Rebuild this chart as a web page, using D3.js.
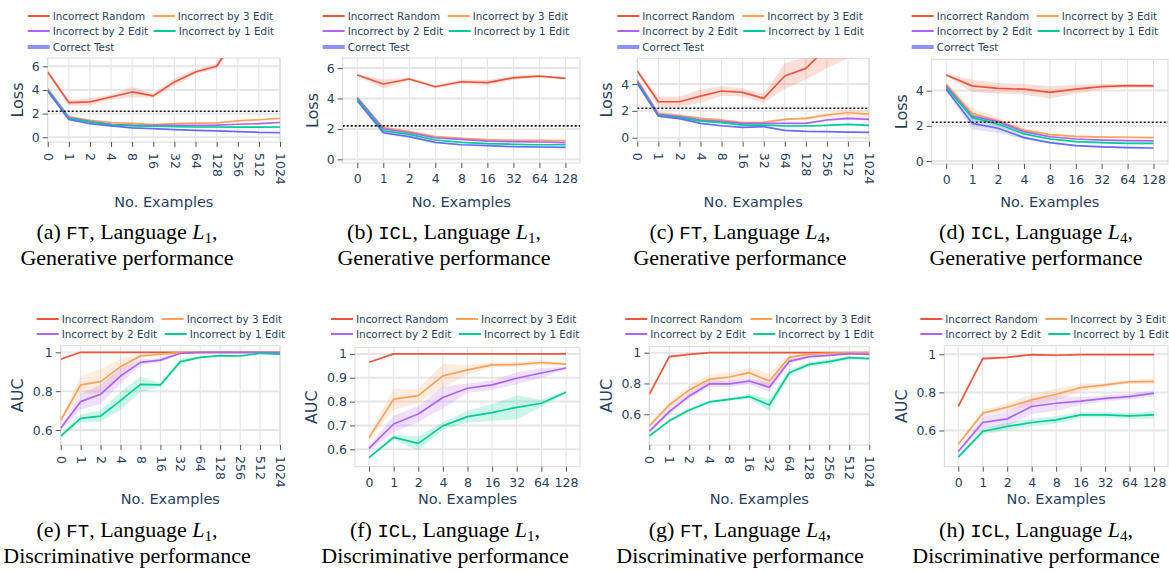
<!DOCTYPE html>
<html>
<head>
<meta charset="utf-8">
<script src="https://cdn.jsdelivr.net/npm/d3@7/dist/d3.min.js"></script>
<style>
  html, body { margin: 0; padding: 0; background: #fff; }
  svg { display: block; }
</style>
</head>
<body>
<svg id="fig" width="1169" height="572"></svg>
<script>
// ---- categories ----
const xFT  = ["0","1","2","4","8","16","32","64","128","256","512","1024"];
const xICL = ["0","1","2","4","8","16","32","64","128"];

const seriesNames  = ["Incorrect Random","Incorrect by 3 Edit","Incorrect by 2 Edit","Incorrect by 1 Edit","Correct Test"];
const seriesColors = ["#EF553B","#FFA15A","#AB63FA","#00CC96","#636EFA"];

const lossTicksA = [0, 2, 4, 6];
const lossTicksC = [0, 2, 4];
const aucTicks   = [0.6, 0.8, 1];
const aucTicksF  = [0.6, 0.7, 0.8, 0.9, 1];
const baselineLoss = 2.2;

// ---- (a) FT, L1, generative (loss) ----
const aRandom  = [5.52, 2.93, 2.99, 3.40, 3.83, 3.50, 4.68, 5.52, 6.00, 8.70, 10.0, 11.0];
const aEdit3   = [4.11, 1.72, 1.44, 1.25, 1.18, 1.07, 1.15, 1.20, 1.22, 1.38, 1.48, 1.60];
const aEdit2   = [4.00, 1.66, 1.35, 1.10, 1.02, 1.00, 1.00, 1.00, 1.02, 1.10, 1.15, 1.25];
const aEdit1   = [4.00, 1.60, 1.30, 1.07, 0.96, 0.93, 0.90, 0.87, 0.87, 0.85, 0.85, 0.87];
const aCorrect = [3.90, 1.50, 1.15, 0.96, 0.79, 0.73, 0.65, 0.59, 0.54, 0.48, 0.42, 0.40];
const aRandomSd  = [0.10, 0.25, 0.30, 0.20, 0.45, 0.15, 0.30, 0.20, 0.20, 0.50, 0.50, 0.50];
const aEdit3Sd   = [0.08, 0.10, 0.08, 0.05, 0.05, 0.05, 0.05, 0.05, 0.05, 0.05, 0.05, 0.05];
const aEdit2Sd   = [0.06, 0.08, 0.06, 0.05, 0.05, 0.05, 0.05, 0.05, 0.05, 0.05, 0.05, 0.05];
const aEdit1Sd   = [0.06, 0.08, 0.06, 0.05, 0.04, 0.04, 0.04, 0.04, 0.04, 0.04, 0.04, 0.04];
const aCorrectSd = [0.08, 0.10, 0.06, 0.04, 0.04, 0.04, 0.04, 0.04, 0.04, 0.04, 0.04, 0.04];

// ---- (b) ICL, L1, generative (loss) ----
const bRandom  = [5.54, 4.95, 5.28, 4.77, 5.10, 5.04, 5.36, 5.47, 5.32];
const bEdit3   = [4.07, 2.08, 1.82, 1.49, 1.38, 1.29, 1.25, 1.25, 1.23];
const bEdit2   = [4.03, 2.01, 1.75, 1.42, 1.31, 1.20, 1.16, 1.14, 1.10];
const bEdit1   = [3.96, 1.88, 1.64, 1.27, 1.12, 1.03, 0.99, 0.96, 0.96];
const bCorrect = [3.85, 1.75, 1.49, 1.12, 0.96, 0.90, 0.83, 0.81, 0.79];
const bRandomSd  = [0.05, 0.30, 0.10, 0.10, 0.15, 0.15, 0.15, 0.05, 0.05];
const bEdit3Sd   = [0.06, 0.10, 0.08, 0.06, 0.05, 0.05, 0.04, 0.04, 0.04];
const bEdit2Sd   = [0.06, 0.10, 0.08, 0.06, 0.05, 0.05, 0.04, 0.04, 0.04];
const bEdit1Sd   = [0.06, 0.10, 0.08, 0.06, 0.05, 0.04, 0.04, 0.04, 0.04];
const bCorrectSd = [0.06, 0.12, 0.08, 0.06, 0.05, 0.04, 0.04, 0.04, 0.04];

// ---- (c) FT, L4, generative (loss) ----
const cRandom  = [4.97, 2.68, 2.68, 3.10, 3.48, 3.38, 2.93, 4.60, 5.17, 6.70, 7.50, 8.00];
const cEdit3   = [4.30, 1.81, 1.64, 1.44, 1.32, 1.12, 1.14, 1.37, 1.44, 1.69, 1.86, 1.76];
const cEdit2   = [4.22, 1.74, 1.57, 1.32, 1.22, 1.07, 1.07, 1.07, 1.07, 1.32, 1.44, 1.37];
const cEdit1   = [4.12, 1.66, 1.49, 1.24, 1.12, 0.94, 0.94, 0.87, 0.87, 0.92, 0.99, 0.92];
const cCorrect = [4.05, 1.61, 1.42, 1.07, 0.89, 0.77, 0.82, 0.55, 0.47, 0.45, 0.42, 0.40];
const cRandomSd  = [0.10, 0.40, 0.40, 0.50, 0.35, 0.30, 0.35, 0.95, 0.85, 1.50, 1.60, 2.00];
const cEdit3Sd   = [0.10, 0.15, 0.12, 0.10, 0.10, 0.08, 0.08, 0.10, 0.10, 0.15, 0.30, 0.25];
const cEdit2Sd   = [0.08, 0.10, 0.08, 0.08, 0.08, 0.06, 0.06, 0.06, 0.06, 0.10, 0.12, 0.10];
const cEdit1Sd   = [0.08, 0.08, 0.06, 0.06, 0.05, 0.05, 0.05, 0.05, 0.05, 0.05, 0.06, 0.05];
const cCorrectSd = [0.08, 0.08, 0.06, 0.05, 0.05, 0.04, 0.04, 0.04, 0.04, 0.04, 0.04, 0.04];

// ---- (d) ICL, L4, generative (loss) ----
const dRandom  = [4.89, 4.27, 4.13, 4.08, 3.90, 4.08, 4.23, 4.28, 4.27];
const dEdit3   = [4.36, 2.71, 2.29, 1.76, 1.50, 1.40, 1.36, 1.35, 1.33];
const dEdit2   = [4.28, 2.56, 2.24, 1.67, 1.38, 1.25, 1.19, 1.16, 1.14];
const dEdit1   = [4.19, 2.48, 2.10, 1.54, 1.25, 1.10, 1.04, 1.00, 1.00];
const dCorrect = [4.08, 2.14, 1.86, 1.33, 1.04, 0.87, 0.80, 0.76, 0.74];
const dRandomSd  = [0.05, 0.35, 0.30, 0.30, 0.35, 0.25, 0.15, 0.10, 0.10];
const dEdit3Sd   = [0.10, 0.30, 0.20, 0.10, 0.08, 0.06, 0.06, 0.05, 0.05];
const dEdit2Sd   = [0.08, 0.20, 0.12, 0.08, 0.06, 0.05, 0.05, 0.05, 0.05];
const dEdit1Sd   = [0.08, 0.20, 0.12, 0.08, 0.06, 0.05, 0.05, 0.05, 0.05];
const dCorrectSd = [0.10, 0.35, 0.25, 0.10, 0.05, 0.05, 0.05, 0.05, 0.05];

// ---- (e) FT, L1, discriminative (AUC) ----
const eRandom = [0.964, 1, 1, 1, 1, 1, 1, 1, 1, 1, 1, 1];
const eEdit3  = [0.650, 0.832, 0.849, 0.926, 0.981, 0.990, 0.998, 1, 1, 1, 1, 1];
const eEdit2  = [0.609, 0.746, 0.784, 0.878, 0.948, 0.960, 0.995, 1, 1, 1, 1, 0.998];
const eEdit1  = [0.569, 0.660, 0.672, 0.751, 0.835, 0.832, 0.952, 0.974, 0.983, 0.981, 0.995, 0.991];
const eRandomSd = [0.004, 0, 0, 0, 0, 0, 0, 0, 0, 0, 0, 0];
const eEdit3Sd  = [0.010, 0.045, 0.065, 0.040, 0.010, 0.005, 0.002, 0, 0, 0, 0, 0];
const eEdit2Sd  = [0.010, 0.040, 0.050, 0.040, 0.015, 0.010, 0.005, 0, 0, 0, 0, 0];
const eEdit1Sd  = [0.010, 0.020, 0.030, 0.045, 0.040, 0.010, 0.015, 0.005, 0.003, 0.003, 0.003, 0.003];

// ---- (f) ICL, L1, discriminative (AUC) ----
const fRandom = [0.965, 1, 1, 1, 1, 1, 1, 1, 1];
const fEdit3  = [0.649, 0.810, 0.825, 0.908, 0.933, 0.954, 0.955, 0.964, 0.957];
const fEdit2  = [0.604, 0.706, 0.748, 0.817, 0.856, 0.870, 0.898, 0.920, 0.941];
const fEdit1  = [0.565, 0.650, 0.625, 0.698, 0.737, 0.754, 0.776, 0.793, 0.839];
const fRandomSd = [0, 0, 0, 0, 0, 0, 0, 0, 0];
const fEdit3Sd  = [0.010, 0.045, 0.030, 0.050, 0.020, 0.010, 0.010, 0.010, 0.005];
const fEdit2Sd  = [0.010, 0.035, 0.035, 0.045, 0.020, 0.020, 0.025, 0.020, 0.005];
const fEdit1Sd  = [0.005, 0.010, 0.030, 0.015, 0.025, 0.035, 0.050, 0.015, 0.005];

// ---- (g) FT, L4, discriminative (AUC) ----
const gRandom = [0.730, 0.974, 0.989, 1, 1, 1, 1, 1, 1, 1, 1, 1];
const gEdit3  = [0.524, 0.660, 0.758, 0.827, 0.842, 0.870, 0.816, 0.970, 0.991, 0.996, 1, 1];
const gEdit2  = [0.488, 0.617, 0.719, 0.797, 0.797, 0.816, 0.775, 0.944, 0.974, 0.983, 0.994, 0.989];
const gEdit1  = [0.459, 0.557, 0.628, 0.680, 0.697, 0.715, 0.660, 0.870, 0.924, 0.942, 0.968, 0.961];
const gRandomSd = [0, 0.010, 0.005, 0, 0, 0, 0, 0, 0, 0, 0, 0];
const gEdit3Sd  = [0.010, 0.020, 0.030, 0.030, 0.030, 0.030, 0.050, 0.020, 0.010, 0.005, 0.005, 0.005];
const gEdit2Sd  = [0.010, 0.020, 0.020, 0.020, 0.020, 0.020, 0.030, 0.015, 0.010, 0.005, 0.005, 0.005];
const gEdit1Sd  = [0.010, 0.010, 0.010, 0.010, 0.010, 0.015, 0.040, 0.020, 0.015, 0.015, 0.010, 0.010];

// ---- (h) ICL, L4, discriminative (AUC) ----
const hRandom = [0.726, 0.977, 0.984, 0.998, 0.995, 0.998, 0.998, 0.998, 0.998];
const hEdit3  = [0.528, 0.691, 0.722, 0.761, 0.790, 0.825, 0.839, 0.855, 0.858];
const hEdit2  = [0.490, 0.642, 0.661, 0.726, 0.743, 0.754, 0.769, 0.778, 0.796];
const hEdit1  = [0.460, 0.595, 0.621, 0.642, 0.656, 0.682, 0.682, 0.677, 0.682];
const hRandomSd = [0, 0.010, 0.005, 0.005, 0.005, 0, 0, 0, 0];
const hEdit3Sd  = [0.005, 0.015, 0.020, 0.030, 0.030, 0.020, 0.010, 0.010, 0.015];
const hEdit2Sd  = [0.005, 0.030, 0.040, 0.040, 0.040, 0.020, 0.015, 0.015, 0.015];
const hEdit1Sd  = [0.005, 0.015, 0.020, 0.020, 0.020, 0.015, 0.015, 0.015, 0.020];

// ---- panel layout ----
const panels = [
  { id: "a", cats: xFT,  pad: 0, box: [47.7, 58, 280, 142], yDom: [-0.4, 6.7], ticks: lossTicksA, yTitle: "Loss", yTitleX: 17, rot: true,
    series: [[aRandom, aRandomSd], [aEdit3, aEdit3Sd], [aEdit2, aEdit2Sd], [aEdit1, aEdit1Sd], [aCorrect, aCorrectSd]],
    dotted: true, cap: ["(a) ", "FT", "Generative performance"], capX: 127 },
  { id: "b", cats: xICL, pad: 0.56, box: [342.7, 58, 580, 163], yDom: [-0.24, 6.66], ticks: lossTicksA, yTitle: "Loss", yTitleX: 312, rot: false,
    series: [[bRandom, bRandomSd], [bEdit3, bEdit3Sd], [bEdit2, bEdit2Sd], [bEdit1, bEdit1Sd], [bCorrect, bCorrectSd]],
    dotted: true, cap: ["(b) ", "ICL", "Generative performance"], capX: 444 },
  { id: "c", cats: xFT,  pad: 0, box: [637.3, 58.3, 869, 141.7], yDom: [-0.3, 5.92], ticks: lossTicksC, yTitle: "Loss", yTitleX: 606.5, rot: true,
    series: [[cRandom, cRandomSd], [cEdit3, cEdit3Sd], [cEdit2, cEdit2Sd], [cEdit1, cEdit1Sd], [cCorrect, cCorrectSd]],
    dotted: true, cap: ["(c) ", "FT", "Generative performance"], capX: 740, lang: 4 },
  { id: "d", cats: xICL, pad: 0.56, box: [931.7, 59.3, 1168, 164], yDom: [-0.17, 5.78], ticks: lossTicksC, yTitle: "Loss", yTitleX: 901.5, rot: false,
    series: [[dRandom, dRandomSd], [dEdit3, dEdit3Sd], [dEdit2, dEdit2Sd], [dEdit1, dEdit1Sd], [dCorrect, dCorrectSd]],
    dotted: true, cap: ["(d) ", "ICL", "Generative performance"], capX: 1036, lang: 4 },
  { id: "e", cats: xFT,  pad: 0, box: [60.7, 345.7, 280, 445], yDom: [0.523, 1.034], ticks: aucTicks, yTitle: "AUC", yTitleX: 17, rot: true,
    series: [[eRandom, eRandomSd], [eEdit3, eEdit3Sd], [eEdit2, eEdit2Sd], [eEdit1, eEdit1Sd]],
    dotted: false, cap: ["(e) ", "FT", "Discriminative performance"], capX: 127 },
  { id: "f", cats: xICL, pad: 0.57, box: [355, 347.7, 580, 466.7], yDom: [0.527, 1.026], ticks: aucTicksF, yTitle: "AUC", yTitleX: 311.5, rot: false,
    series: [[fRandom, fRandomSd], [fEdit3, fEdit3Sd], [fEdit2, fEdit2Sd], [fEdit1, fEdit1Sd]],
    dotted: false, cap: ["(f) ", "ICL", "Discriminative performance"], capX: 445 },
  { id: "g", cats: xFT,  pad: 0, box: [649.3, 346.7, 869.3, 445], yDom: [0.40, 1.039], ticks: aucTicks, yTitle: "AUC", yTitleX: 606.5, rot: true,
    series: [[gRandom, gRandomSd], [gEdit3, gEdit3Sd], [gEdit2, gEdit2Sd], [gEdit1, gEdit1Sd]],
    dotted: false, cap: ["(g) ", "FT", "Discriminative performance"], capX: 740, lang: 4 },
  { id: "h", cats: xICL, pad: 0.57, box: [944.3, 345.7, 1168, 466.7], yDom: [0.41, 1.045], ticks: aucTicks, yTitle: "AUC", yTitleX: 901, rot: false,
    series: [[hRandom, hRandomSd], [hEdit3, hEdit3Sd], [hEdit2, hEdit2Sd], [hEdit1, hEdit1Sd]],
    dotted: false, cap: ["(h) ", "ICL", "Discriminative performance"], capX: 1036, lang: 4 }
];

const svg = d3.select("#fig");
const FONT = "'DejaVu Sans', Verdana, sans-serif";
const INK = "#2a3f5f";
const defs = svg.append("defs");

function fmtTick(v) { return d3.format("~g")(v); }

panels.forEach((p, pi) => {
  const [x0, y0, x1, y1] = p.box;
  const top = pi < 4;
  const x = d3.scalePoint().domain(p.cats).range([x0, x1]).padding(p.pad);
  const y = d3.scaleLinear().domain(p.yDom).range([y1, y0]);
  const g = svg.append("g").attr("class", "panel-" + p.id);

  // grid
  g.append("g").selectAll("line").data(p.cats).join("line")
    .attr("x1", d => x(d)).attr("x2", d => x(d)).attr("y1", y0).attr("y2", y1)
    .attr("stroke", "#e3e3e3").attr("stroke-width", 1);
  g.append("g").selectAll("line").data(p.ticks).join("line")
    .attr("x1", x0).attr("x2", x1).attr("y1", d => y(d)).attr("y2", d => y(d))
    .attr("stroke", "#e6e6e6").attr("stroke-width", 2);

  // frame
  g.append("rect").attr("x", x0).attr("y", y0).attr("width", x1 - x0).attr("height", y1 - y0)
    .attr("fill", "none").attr("stroke", "#d9d9d9").attr("stroke-width", 1);

  // axes via d3 axis generators
  const yAxis = d3.axisLeft(y).tickValues(p.ticks).tickSize(5).tickPadding(3).tickFormat(fmtTick);
  const ya = g.append("g").attr("transform", `translate(${x0},0)`).call(yAxis);
  ya.select(".domain").remove();
  ya.selectAll(".tick line").attr("stroke", "#555");
  ya.selectAll(".tick text").attr("fill", INK).style("font-family", FONT).style("font-size", "12.5px");

  const xAxis = d3.axisBottom(x).tickSize(5).tickPadding(p.rot ? 4 : 6);
  const xa = g.append("g").attr("transform", `translate(0,${y1})`).call(xAxis);
  xa.select(".domain").remove();
  xa.selectAll(".tick line").attr("stroke", "#555");
  xa.selectAll(".tick text").attr("fill", INK).style("font-family", FONT).style("font-size", "12.5px");
  if (p.rot) {
    xa.selectAll(".tick text")
      .attr("transform", "rotate(90)")
      .attr("x", 11).attr("y", 0).attr("dy", "0.35em")
      .attr("text-anchor", "start");
  }

  // axis titles
  const xTitleY = top ? 207 : 504;
  g.append("text").attr("x", (x0 + x1) / 2).attr("y", xTitleY)
    .attr("text-anchor", "middle").attr("fill", INK)
    .style("font-family", FONT).style("font-size", "14.5px").text("No. Examples");
  const yTitleY = (y0 + y1) / 2;
  g.append("text").attr("transform", `translate(${p.yTitleX},${yTitleY}) rotate(-90)`)
    .attr("text-anchor", "middle").attr("dy", "0.35em").attr("fill", INK)
    .style("font-family", FONT).style("font-size", "16px").text(p.yTitle);

  // clip region
  const clipId = "clip-" + p.id;
  defs.append("clipPath").attr("id", clipId).append("rect")
    .attr("x", x0).attr("y", y0).attr("width", x1 - x0).attr("height", y1 - y0);
  const plot = g.append("g").attr("clip-path", `url(#${clipId})`);

  const band = d3.area()
    .x((d, i) => x(p.cats[i]))
    .y0(d => y(d[0] - d[1]))
    .y1(d => y(d[0] + d[1]));
  const line = d3.line().x((d, i) => x(p.cats[i])).y(d => y(d));

  p.series.forEach(([vals, sd], si) => {
    plot.append("path")
      .datum(vals.map((v, i) => [v, sd[i]]))
      .attr("d", band)
      .attr("fill", seriesColors[si]).attr("fill-opacity", 0.2).attr("stroke", "none");
  });
  p.series.forEach(([vals], si) => {
    plot.append("path").datum(vals).attr("d", line)
      .attr("fill", "none").attr("stroke", seriesColors[si]).attr("stroke-width", 1.7)
      .attr("stroke-linejoin", "round");
  });

  if (p.dotted) {
    plot.append("line").attr("x1", x0).attr("x2", x1)
      .attr("y1", y(baselineLoss)).attr("y2", y(baselineLoss))
      .attr("stroke", "#000").attr("stroke-width", 1.6).attr("stroke-dasharray", "2,2");
  }

  // legend
  const legLeft = top ? x0 - 20 : x0 - 24;
  const rows = top ? [16, 31, 47] : [319, 334];
  const col2 = top ? [125, 126] : [125, 128];
  const n = p.series.length;
  for (let si = 0; si < n; si++) {
    const r = Math.floor(si / 2), c = si % 2;
    const lx = legLeft + (c ? col2[Math.min(r, 1)] : 0);
    const ly = rows[r];
    const lg = g.append("g");
    if (si === 4) {
      lg.append("line").attr("x1", lx).attr("x2", lx + 22).attr("y1", ly).attr("y2", ly)
        .attr("stroke", seriesColors[si]).attr("stroke-opacity", 0.75).attr("stroke-width", 4);
    } else {
      lg.append("line").attr("x1", lx).attr("x2", lx + 22).attr("y1", ly).attr("y2", ly)
        .attr("stroke", seriesColors[si]).attr("stroke-width", 2);
    }
    lg.append("text").attr("x", lx + 25).attr("y", ly).attr("dy", "0.35em")
      .attr("fill", INK).style("font-family", FONT).style("font-size", "10.4px")
      .text(seriesNames[si]);
  }

  // caption
  const capY = top ? 239 : 537;
  const serif = "'Liberation Serif', 'Times New Roman', serif";
  const t1 = svg.append("text").attr("x", p.capX).attr("y", capY).attr("text-anchor", "middle")
    .style("font-family", serif).style("font-size", "22px").attr("fill", "#000");
  t1.append("tspan").text(p.cap[0]);
  t1.append("tspan").style("font-family", "'Liberation Mono', monospace").style("font-size", "19px").text(p.cap[1]);
  t1.append("tspan").text(", Language ");
  t1.append("tspan").style("font-style", "italic").text("L");
  t1.append("tspan").attr("dy", 4).style("font-size", "15px").text(p.lang === 4 ? "4" : "1");
  t1.append("tspan").attr("dy", -4).text(",");
  svg.append("text").attr("x", p.capX).attr("y", capY + 26).attr("text-anchor", "middle")
    .style("font-family", serif).style("font-size", "22px").attr("fill", "#000")
    .text(p.cap[2]);
});
</script>
</body>
</html>
